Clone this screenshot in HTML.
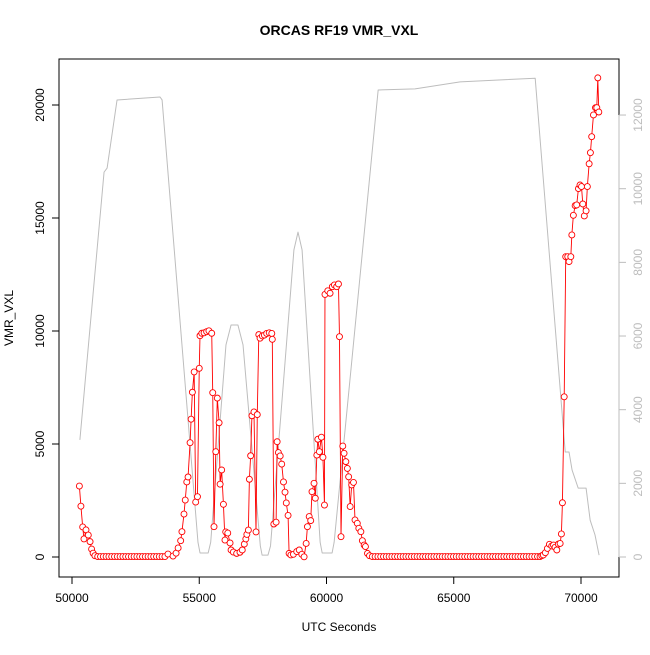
<!DOCTYPE html>
<html><head><meta charset="utf-8"><style>
html,body{margin:0;padding:0;background:#fff;}
svg text{font-family:"Liberation Sans",Arial,sans-serif;}
</style></head><body>
<svg id="chart" width="650" height="650" viewBox="0 0 650 650" xmlns="http://www.w3.org/2000/svg">
<rect x="0" y="0" width="650" height="650" fill="#fff"/>
<text x="339" y="35" text-anchor="middle" font-size="14" font-weight="bold">ORCAS RF19 VMR_VXL</text>
<text x="339" y="631" text-anchor="middle" font-size="12">UTC Seconds</text>
<text x="0" y="0" transform="translate(13,318) rotate(-90)" text-anchor="middle" font-size="12">VMR_VXL</text>
<g id="grayg"></g>
<g id="redg"></g>
<rect x="59" y="59" width="560" height="518" fill="none" stroke="#000" stroke-width="1"/>
<g id="axes"></g>
</svg>
<script>
const xTicks=[50000,55000,60000,65000,70000];
const yTicks=[0,5000,10000,15000,20000];
const y2Ticks=[0,2000,4000,6000,8000,10000,12000];
const altTime=[50310,51260,51380,51770,53460,53540,54950,55030,55350,55450,56050,56250,56520,56720,57400,57470,57700,57800,58720,58880,59040,59750,59830,60220,60300,62030,63480,65250,68200,69380,69530,69650,69890,70200,70360,70550,70710];
const altValue=[3180,10450,10560,12410,12490,12410,400,110,110,400,5760,6300,6300,5760,300,50,50,300,8340,8820,8340,400,110,110,400,12680,12710,12900,13000,2850,2850,2360,1870,1870,1000,600,50];
const vmrTime=[50290,50350,50420,50470,50550,50640,50710,50770,50830,50900,
51010,51120,51230,51340,51450,51560,51670,51780,51890,52000,52110,52220,52330,52440,52550,52660,52770,52880,52990,53100,53210,53320,53430,53540,53650,
53770,53970,54090,54170,54270,54320,54400,54450,54510,54560,54640,54680,54730,54800,54860,54930,55000,55030,55100,55190,55290,55380,55490,55530,55580,55650,55710,55780,55820,55880,55950,56010,56040,56120,56210,56250,56340,56470,56600,56690,56770,56830,56870,56930,56970,57020,57070,57150,57230,57280,57340,57390,57480,57560,57650,57750,57850,57870,57930,58020,58060,58110,58180,58240,58310,58370,58420,58490,58530,58600,58700,58830,58930,59030,59120,59200,59250,59320,59380,59430,59510,59560,59620,59660,59720,59800,59860,59920,59940,60050,60140,60230,60310,60400,60470,60510,60570,60640,60690,60760,60820,60870,60930,60990,61060,61120,61210,61270,61350,61410,61480,61530,61610,61690,
61800,61910,62020,62130,62240,62350,62460,62570,62680,62790,62900,63010,63120,63230,63340,63450,63560,63670,63780,63890,64000,64110,64220,64330,64440,64550,64660,64770,64880,64990,65100,65210,65320,65430,65540,65650,65760,65870,65980,66090,66200,66310,66420,66530,66640,66750,66860,66970,67080,67190,67300,67410,67520,67630,67740,67850,67960,68070,68180,68290,68390,
68460,68520,68600,68680,68760,68850,68920,68980,69050,69110,69180,69230,69270,69340,69400,69480,69530,69600,69640,69700,69770,69830,69900,69960,70020,70070,70130,70200,70250,70320,70370,70420,70490,70570,70620,70660,70700];
const vmrValue=[3140,2250,1330,800,1200,970,680,350,170,60,
20,20,20,20,20,20,20,20,20,20,20,20,20,20,20,20,20,20,20,20,20,20,20,20,20,
130,40,170,400,720,1120,1900,2520,3320,3540,5060,6100,7290,8190,2430,2670,8350,9790,9900,9920,9970,10010,9900,7270,1340,4660,7030,5940,3220,3850,2330,750,1110,1060,620,310,220,160,210,310,570,800,1000,1190,3440,4480,6250,6420,1110,6300,9840,9680,9780,9820,9890,9920,9890,9630,1460,1540,5100,4620,4470,4110,3320,2870,2390,1840,160,90,120,240,310,120,10,600,1340,1790,1610,2890,3260,2600,4510,5210,4660,5300,4410,2300,11620,11780,11670,11960,12040,11960,12080,9750,900,4910,4590,4220,3920,3550,2230,3190,3300,1640,1490,1270,1120,720,530,460,160,60,
20,20,20,20,20,20,20,20,20,20,20,20,20,20,20,20,20,20,20,20,20,20,20,20,20,20,20,20,20,20,20,20,20,20,20,20,20,20,20,20,20,20,20,20,20,20,20,20,20,20,20,20,20,20,20,20,20,20,20,20,20,
60,90,190,380,560,490,530,430,310,570,600,1020,2400,7090,13290,13290,13070,13290,14250,15120,15550,15580,16300,16460,16390,15620,15090,15320,16390,17400,17890,18600,19560,19880,19880,21200,19690];

const NS='http://www.w3.org/2000/svg';
function xS(t){return 72+(t-50000)*0.02545;}
function yS(v){return 557-v*0.0226;}
function y2S(v){return 557-v*0.03683;}
function mk(tag,attrs,parent){const e=document.createElementNS(NS,tag);for(const k in attrs)e.setAttribute(k,attrs[k]);parent.appendChild(e);return e;}

const gray=document.getElementById('grayg');
const gl=mk('polyline',{points:altTime.map((t,i)=>xS(t)+','+y2S(altValue[i])).join(' '),fill:'none',stroke:'#bdbdbd','stroke-width':1,'stroke-linejoin':'round'},gray);



const red=document.getElementById('redg');
const rl=mk('polyline',{points:vmrTime.map((t,i)=>xS(t)+','+yS(vmrValue[i])).join(' '),fill:'none',stroke:'#ff0000','stroke-width':0.9},red);


vmrTime.forEach((t,i)=>{
  const c=mk('circle',{cx:xS(t),cy:yS(vmrValue[i]),r:3,fill:'#fff',stroke:'#ff0000','stroke-width':0.9},red);
  
  
});

const ax=document.getElementById('axes');
mk('line',{x1:xS(xTicks[0]),x2:xS(xTicks[xTicks.length-1]),y1:577,y2:577,stroke:'#000'},ax);
xTicks.forEach(t=>{
  mk('line',{x1:xS(t),x2:xS(t),y1:577,y2:584,stroke:'#000'},ax);
  const l=mk('text',{x:xS(t),y:602,'text-anchor':'middle','font-size':12},ax);
  l.textContent=t;
  
  
});
mk('line',{x1:59,x2:59,y1:yS(yTicks[0]),y2:yS(yTicks[yTicks.length-1]),stroke:'#000'},ax);
yTicks.forEach(v=>{
  mk('line',{x1:52,x2:59,y1:yS(v),y2:yS(v),stroke:'#000'},ax);
  const l=mk('text',{x:0,y:0,transform:'translate(44,'+yS(v)+') rotate(-90)','text-anchor':'middle','font-size':12},ax);
  l.textContent=v;
  
  
});
mk('line',{x1:619,x2:619,y1:y2S(y2Ticks[0]),y2:y2S(y2Ticks[y2Ticks.length-1]),stroke:'#bdbdbd'},ax);
y2Ticks.forEach(v=>{
  mk('line',{x1:619,x2:626,y1:y2S(v),y2:y2S(v),stroke:'#bdbdbd'},ax);
  const l=mk('text',{x:0,y:0,transform:'translate(642,'+y2S(v)+') rotate(-90)','text-anchor':'middle','font-size':12,fill:'#bdbdbd'},ax);
  l.textContent=v;
  
  
});
</script>
</body></html>
